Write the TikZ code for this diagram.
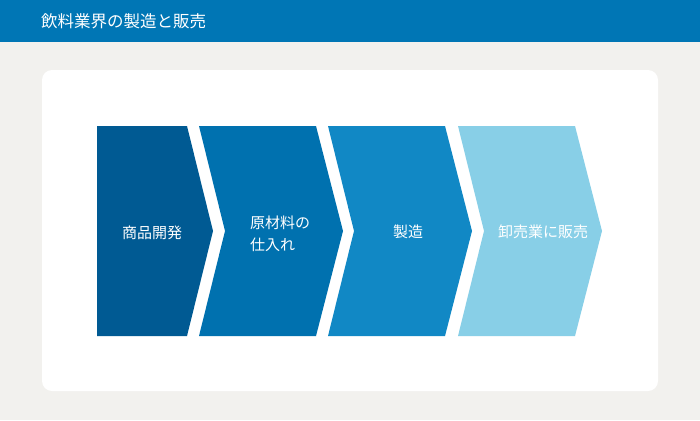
\documentclass[tikz,border=0pt]{standalone}
\usepackage{fontspec}
\setmainfont{Noto Sans CJK JP}
\definecolor{bgc}{HTML}{F2F1EE}
\definecolor{headc}{HTML}{0076B5}
\definecolor{cA}{HTML}{005A93}
\definecolor{cB}{HTML}{0071AF}
\definecolor{cC}{HTML}{1188C5}
\definecolor{cD}{HTML}{88CFE7}
\begin{document}
\begin{tikzpicture}[x=1pt,y=-1pt,
  lbl/.style={text=white, inner sep=0pt, font=\fontsize{15}{22}\selectfont, align=left},
  ttl/.style={text=white, inner sep=0pt, anchor=west, font=\fontsize{16.5}{18}\selectfont}]
\useasboundingbox (0,0) rectangle (700,420);
\fill[bgc] (0,0) rectangle (700,420);
\fill[headc] (0,0) rectangle (700,42);
\node[ttl] (title) at (41,21) {飲料業界の製造と販売};
\fill[white, rounded corners=10pt] (42,70) rectangle (658,391);
% chevrons
\fill[cA] (97,126) -- (187,126) -- (213,231) -- (187,336) -- (97,336) -- cycle;
\fill[cB] (199,126) -- (316,126) -- (343,231) -- (316,336) -- (199,336) -- (225,231) -- cycle;
\fill[cC] (328,126) -- (445,126) -- (472,231) -- (445,336) -- (328,336) -- (354,231) -- cycle;
\fill[cD] (458,126) -- (575,126) -- (602,231) -- (575,336) -- (458,336) -- (484,231) -- cycle;
% labels
\node[lbl] (l1) at (152,233) {商品開発};
\node[lbl] (l2) at (280,234) {原材料の\\仕入れ};
\node[lbl] (l3) at (408,232) {製造};
\node[lbl] (l4) at (543,232) {卸売業に販売};
\end{tikzpicture}
\end{document}
